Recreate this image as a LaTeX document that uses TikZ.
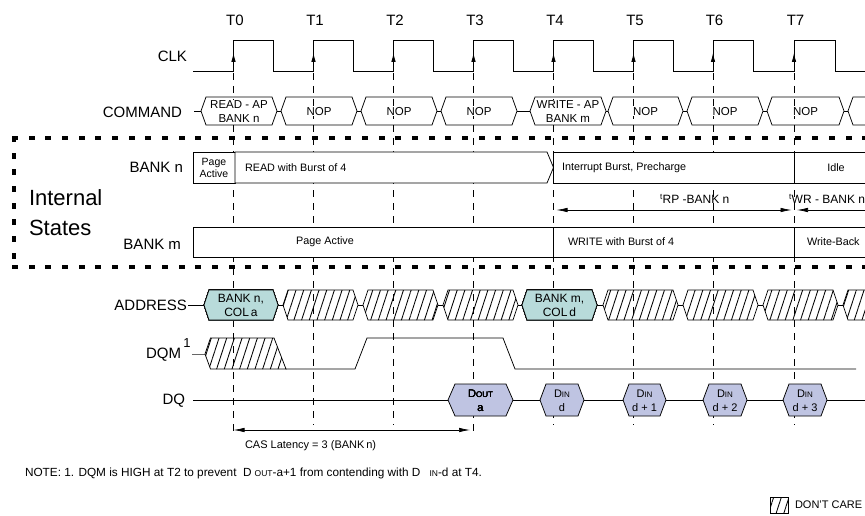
\documentclass[tikz,border=0pt]{standalone}
\usepackage{fontspec}
\setmainfont{Liberation Sans}
\usetikzlibrary{arrows.meta,patterns.meta}
\definecolor{tealfill}{RGB}{184,219,218}
\definecolor{lavfill}{RGB}{191,196,226}
\newcommand{\hexd}[6]{%
  \path[#1] (#2,#4) -- ({#2+#6},{#4-#5}) -- ({#3-#6},{#4-#5}) -- (#3,#4) -- ({#3-#6},{#4+#5}) -- ({#2+#6},{#4+#5}) -- cycle;}
\begin{document}
\begin{tikzpicture}[x=1pt,y=-1pt,line width=0.75pt,
  every node/.style={inner sep=0pt,outer sep=0pt},
  lbl/.style={font=\fontsize{15}{17}\selectfont},
  cmdtxt/.style={font=\fontsize{11.5}{13.5}\selectfont,align=center,fill=white,inner sep=0.5pt},
  sttxt/.style={font=\fontsize{10.8}{12.5}\selectfont},
  tline/.style={dash pattern=on 7pt off 6pt,line width=0.8pt},
  ibox/.style={line width=4pt,dash pattern=on 2pt off 14.67pt,line cap=rect},
  hatch/.style={draw,pattern={Lines[angle=72,distance=7.3pt,line width=0.85pt]}},
  tealhex/.style={draw,fill=tealfill},
  lavhex/.style={draw,fill=lavfill},
  dim/.style={{Latex[length=11pt,width=4.5pt]}-{Latex[length=11pt,width=4.5pt]},line width=0.7pt},
  statebox/.style={draw,fill=white}]
\clip (0,0) rectangle (865,516);

% dashed time lines
\foreach \t/\e [count=\i from 0] in {233.5/437,313.5/425,393.5/425,473.5/437,553.5/425,633.5/425,713/425,794/425}{
  \coordinate (tt\i) at (\t,73);
  \coordinate (tb\i) at (\t,\e);
  \draw[tline] (tt\i) -- (tb\i);
  \node[lbl] (tl\i) at (\t+1.5,20) {T\i};
}

% internal states dashed frame
\coordinate (ibtl) at (14,138); \coordinate (ibtr) at (880,138);
\coordinate (ibbl) at (14,267); \coordinate (ibbr) at (880,267);
\draw[ibox] (ibtl) -- (ibtr);
\draw[ibox] (ibtl) -- (ibbl);
\draw[ibox] (ibbl) -- (ibbr);
\node[font=\fontsize{22}{24}\selectfont,anchor=base west] (intl) at (29,205.5) {Internal};
\node[font=\fontsize{22}{24}\selectfont,anchor=base west] (stat) at (29,235.5) {States};

% CLK
\node[lbl,anchor=east] (clk) at (187,56) {CLK};
\draw (193,71) -- (233.5,71) |- (273.5,40) |- (313.5,71) |- (353.5,40) |- (393.5,71) |- (433.5,40) |- (473.5,71) |- (513.5,40) |- (553.5,71) |- (593.5,40) |- (633.5,71) |- (673.5,40) |- (713,71) |- (753.5,40) |- (794,71) |- (835,40) |- (870,71);
\foreach \t in {233.5,313.5,393.5,473.5,553.5,633.5,713,794}
  \draw[-{Latex[length=9pt,width=4.5pt]}] (\t,66) -- (\t,53);

% COMMAND
\node[lbl,anchor=east] (cmdl) at (182,112) {COMMAND};
\foreach \a/\b in {194/201,277/281,357/361,437/441,517/530,606/608,683/687,763/767,844/848}
  \draw (\a,111) -- (\b,111);
\foreach \a/\b in {201/277,281/357,361/437,441/517,530/606,608/683,687/763,767/844,848/925}
  \hexd{draw}{\a}{\b}{111}{14}{5}
\foreach \c/\txt [count=\i] in {239/{READ - AP\\BANK n},319/NOP,399/NOP,479/NOP,568/{WRITE - AP\\BANK m},645.5/NOP,725/NOP,805.5/NOP}
  \node[cmdtxt] (cmd\i) at (\c,111.5) {\txt};

% BANK n
\node[lbl,anchor=east] (bnl) at (183,167) {BANK n};
\draw[statebox] (193,152) rectangle (235,183);
\draw[statebox] (235,152) -- (547,152) -- (553.5,167.5) -- (547,183) -- (235,183) -- cycle;
\draw[statebox] (553.5,152) rectangle (794,183);
\draw[statebox] (794,152) rectangle (880,183);
\node[font=\fontsize{10.5}{12}\selectfont,align=center] (pa1) at (214,167.5) {Page\\Active};
\node[sttxt,anchor=west] (rd) at (245,167.5) {READ with Burst of 4};
\node[sttxt,anchor=west] (ib) at (562,167.5) {Interrupt Burst, Precharge};
\node[sttxt] (idle) at (836,167.5) {Idle};

% timing arrows
\coordinate (rpL) at (556.5,210); \coordinate (rpR) at (791.5,210);
\draw[dim] (rpL) -- (rpR);
\coordinate (wrL) at (797,210); \coordinate (wrR) at (880,210);
\draw[-{Latex[length=11pt,width=4.5pt]},line width=0.7pt] (wrR) -- (wrL);
\node[font=\fontsize{12}{14}\selectfont,anchor=base west] (rpl) at (660,204) {\textsuperscript{t}RP -BANK n};
\node[font=\fontsize{12}{14}\selectfont,anchor=base west] (wrl) at (789,204) {\textsuperscript{t}WR - BANK n};

% BANK m
\node[lbl,anchor=east] (bml) at (181,244) {BANK m};
\draw[statebox] (193,227) rectangle (553.5,257);
\draw[statebox] (553.5,227) rectangle (794,257);
\draw[statebox] (794,227) rectangle (880,257);
\node[sttxt] (pa2) at (325,242) {Page Active};
\node[sttxt,anchor=west] (wr) at (568,242) {WRITE with Burst of 4};
\node[sttxt,anchor=west] (wb) at (807,242) {Write-Back};

% ADDRESS
\node[lbl,anchor=east] (adl) at (187,305) {ADDRESS};
\foreach \a/\b in {188/204,278/283,358/363,438/443,518/522,597/603,678/683,758/763,838/843}
  \draw (\a,305) -- (\b,305);
\foreach \a/\b in {283/358,363/438,443/518,603/678,683/758,763/838,843/918}
  \hexd{hatch}{\a}{\b}{305}{15}{5}
\hexd{tealhex}{204}{278}{305}{15}{5}
\hexd{tealhex}{522}{597}{305}{15}{5}
\node[font=\fontsize{12}{14}\selectfont,align=center] (ad1) at (241,305) {BANK n,\\COL\,a};
\node[font=\fontsize{12}{14}\selectfont,align=center] (ad2) at (559.5,305) {BANK m,\\COL\,d};

% DQM
\node[lbl,anchor=east] (dqml) at (181,355) {DQM};
\node[font=\fontsize{13}{15}\selectfont] (sup1) at (187,343) {1};
\draw[black!60] (192,354) -- (205,354);
\draw[hatch] (205,354) -- (210.5,338) -- (274,338) -- (286,369) -- (210.5,369) -- cycle;
\draw (286,369) -- (355,369) -- (367,338) -- (503,338) -- (515,369) -- (856,369);

% DQ
\node[lbl,anchor=east] (dql) at (185,401) {DQ};
\draw (193,400) -- (865,400);
\hexd{lavhex}{448}{513}{400}{16}{7}
\foreach \a/\b in {540/584,623/666,703/747,783/827}
  \hexd{lavhex}{\a}{\b}{400}{16}{6}
\node[font=\fontsize{11}{14}\selectfont,align=center] (dout) at (480.5,400.5) {D{\fontsize{8}{8}\selectfont OUT}\\a};
\foreach \c/\txt [count=\i] in {562/d,644.5/{d + 1},725/{d + 2},805/{d + 3}}
  \node[font=\fontsize{11}{14}\selectfont,align=center] (din\i) at (\c,400.5) {D{\fontsize{8}{8}\selectfont IN}\\\txt};

% CAS latency
\coordinate (casL) at (233.5,430); \coordinate (casR) at (470,430);
\draw[dim] (casL) -- (casR);
\node[font=\fontsize{11}{13}\selectfont,anchor=west] (casl) at (245,446) {CAS Latency = 3 (BANK\,n)};

% note and legend
\node[font=\fontsize{11.8}{13}\selectfont,anchor=west] (note) at (25,473) {NOTE: 1. DQM is HIGH at T2 to prevent\ \ D\hspace{3pt}{\fontsize{8.5}{8.5}\selectfont OUT}-a+1 from contending with D\hspace{9pt}{\fontsize{8.5}{8.5}\selectfont IN}-d at T4.};
\draw[hatch] (770,497) rectangle (788,513);
\node[font=\fontsize{11}{13}\selectfont,anchor=west] (dc) at (795,505) {DON'T CARE};
\end{tikzpicture}
\end{document}
